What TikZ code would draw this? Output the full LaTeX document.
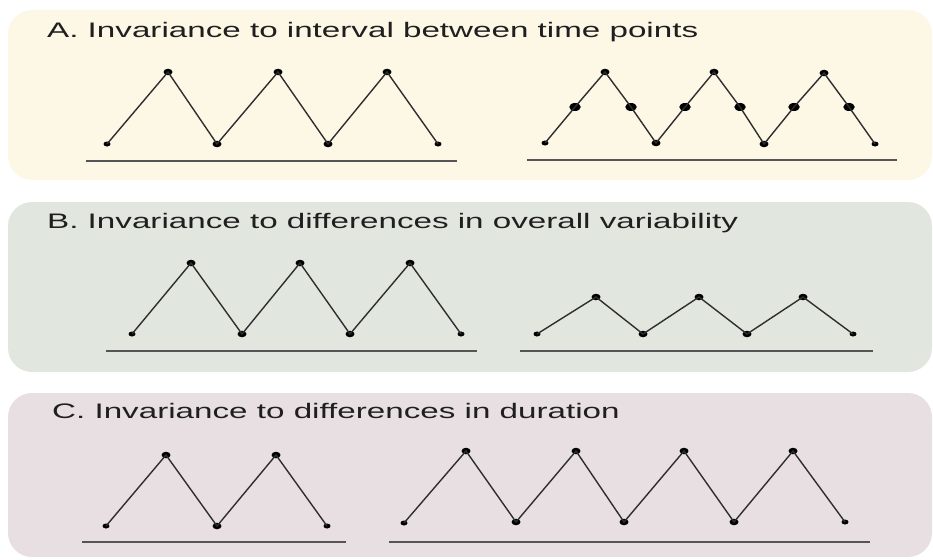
\documentclass[tikz,border=0pt]{standalone}
\usepackage{fontspec}
\setmainfont{Liberation Sans}
\usetikzlibrary{shapes.geometric}
\definecolor{panelA}{HTML}{FDF7E6}
\definecolor{panelB}{HTML}{E1E7DE}
\definecolor{panelC}{HTML}{E8DFE2}
\definecolor{zig}{HTML}{2E2E2E}
\definecolor{axis}{HTML}{555555}
\newcommand{\wide}[1]{\scalebox{1.58}[1]{#1}}
\tikzset{
  panel/.style={rounded corners=24pt},
  ttl/.style={anchor=base west, inner sep=0pt, font=\fontsize{21}{24}\selectfont, text=black!88},
  enddot/.style={ellipse, fill=black, inner sep=0pt, minimum width=7pt, minimum height=5pt},
  indot/.style={ellipse, fill=black, inner sep=0pt, minimum width=9pt, minimum height=6.5pt},
  bigdot/.style={ellipse, fill=black, inner sep=0pt, minimum width=11.5pt, minimum height=8pt},
  zigline/.style={draw=zig, line width=1.4pt},
  axisline/.style={draw=axis, line width=2pt}
}
\begin{document}
\begin{tikzpicture}[x=1pt,y=-1pt]
\useasboundingbox (0,0) rectangle (933,559);
% panels
\fill[panelA, panel] (8,10) rectangle (932,180);
\fill[panelB, panel] (8,202) rectangle (932,372);
\fill[panelC, panel] (8,393) rectangle (932,557);
% titles
\node[ttl] (tA) at (47,38) {\wide{A. Invariance to interval between time points}};
\node[ttl] (tB) at (47,228) {\wide{B. Invariance to differences in overall variability}};
\node[ttl] (tC) at (52,418) {\wide{C. Invariance to differences in duration}};

% ---- Panel A left
\node[enddot] (a1) at (107,144) {};
\node[indot]  (a2) at (168,72) {};
\node[indot]  (a3) at (217,144) {};
\node[indot]  (a4) at (278,72) {};
\node[indot]  (a5) at (328,144) {};
\node[indot]  (a6) at (387,72) {};
\node[enddot] (a7) at (438,144) {};
\draw[zigline] (a1.center) -- (a2.center) -- (a3.center) -- (a4.center) -- (a5.center) -- (a6.center) -- (a7.center);
\coordinate (aL1) at (86,161); \coordinate (aL2) at (457,161);
\draw[axisline] (aL1) -- (aL2);

% ---- Panel A right
\node[enddot] (b1) at (545,143) {};
\node[bigdot] (b2) at (575,107) {};
\node[indot]  (b3) at (605,72) {};
\node[bigdot] (b4) at (631,107) {};
\node[indot]  (b5) at (656,143) {};
\node[bigdot] (b6) at (685,107) {};
\node[indot]  (b7) at (714,72) {};
\node[bigdot] (b8) at (740,107) {};
\node[indot]  (b9) at (764,144) {};
\node[bigdot] (b10) at (794,107) {};
\node[indot]  (b11) at (824,73) {};
\node[bigdot] (b12) at (849,107) {};
\node[enddot] (b13) at (875,144) {};
\draw[zigline] (b1.center) -- (b2.center) -- (b3.center) -- (b4.center) -- (b5.center) -- (b6.center) -- (b7.center) -- (b8.center) -- (b9.center) -- (b10.center) -- (b11.center) -- (b12.center) -- (b13.center);
\coordinate (bL1) at (527,160); \coordinate (bL2) at (897,160);
\draw[axisline] (bL1) -- (bL2);

% ---- Panel B left
\node[enddot] (c1) at (132,334) {};
\node[indot]  (c2) at (191,263) {};
\node[indot]  (c3) at (242,334) {};
\node[indot]  (c4) at (300,263) {};
\node[indot]  (c5) at (350,334) {};
\node[indot]  (c6) at (410,263) {};
\node[enddot] (c7) at (461,334) {};
\draw[zigline] (c1.center) -- (c2.center) -- (c3.center) -- (c4.center) -- (c5.center) -- (c6.center) -- (c7.center);
\coordinate (cL1) at (106,351); \coordinate (cL2) at (477,351);
\draw[axisline] (cL1) -- (cL2);

% ---- Panel B right
\node[enddot] (d1) at (537,334) {};
\node[indot]  (d2) at (596,297) {};
\node[indot]  (d3) at (643,334) {};
\node[indot]  (d4) at (699,297) {};
\node[indot]  (d5) at (747,334) {};
\node[indot]  (d6) at (803,297) {};
\node[enddot] (d7) at (853,334) {};
\draw[zigline] (d1.center) -- (d2.center) -- (d3.center) -- (d4.center) -- (d5.center) -- (d6.center) -- (d7.center);
\coordinate (dL1) at (520,351); \coordinate (dL2) at (873,351);
\draw[axisline] (dL1) -- (dL2);

% ---- Panel C left
\node[enddot] (e1) at (106,526) {};
\node[indot]  (e2) at (166,455) {};
\node[indot]  (e3) at (217,526) {};
\node[indot]  (e4) at (276,455) {};
\node[enddot] (e5) at (327,526) {};
\draw[zigline] (e1.center) -- (e2.center) -- (e3.center) -- (e4.center) -- (e5.center);
\coordinate (eL1) at (82,542); \coordinate (eL2) at (346,542);
\draw[axisline] (eL1) -- (eL2);

% ---- Panel C right
\node[enddot] (f1) at (404,523) {};
\node[indot]  (f2) at (466,451) {};
\node[indot]  (f3) at (516,522) {};
\node[indot]  (f4) at (576,451) {};
\node[indot]  (f5) at (624,522) {};
\node[indot]  (f6) at (684,451) {};
\node[indot]  (f7) at (734,522) {};
\node[indot]  (f8) at (793,451) {};
\node[enddot] (f9) at (845,522) {};
\draw[zigline] (f1.center) -- (f2.center) -- (f3.center) -- (f4.center) -- (f5.center) -- (f6.center) -- (f7.center) -- (f8.center) -- (f9.center);
\coordinate (fL1) at (389,542); \coordinate (fL2) at (870,542);
\draw[axisline] (fL1) -- (fL2);
\end{tikzpicture}
\end{document}
